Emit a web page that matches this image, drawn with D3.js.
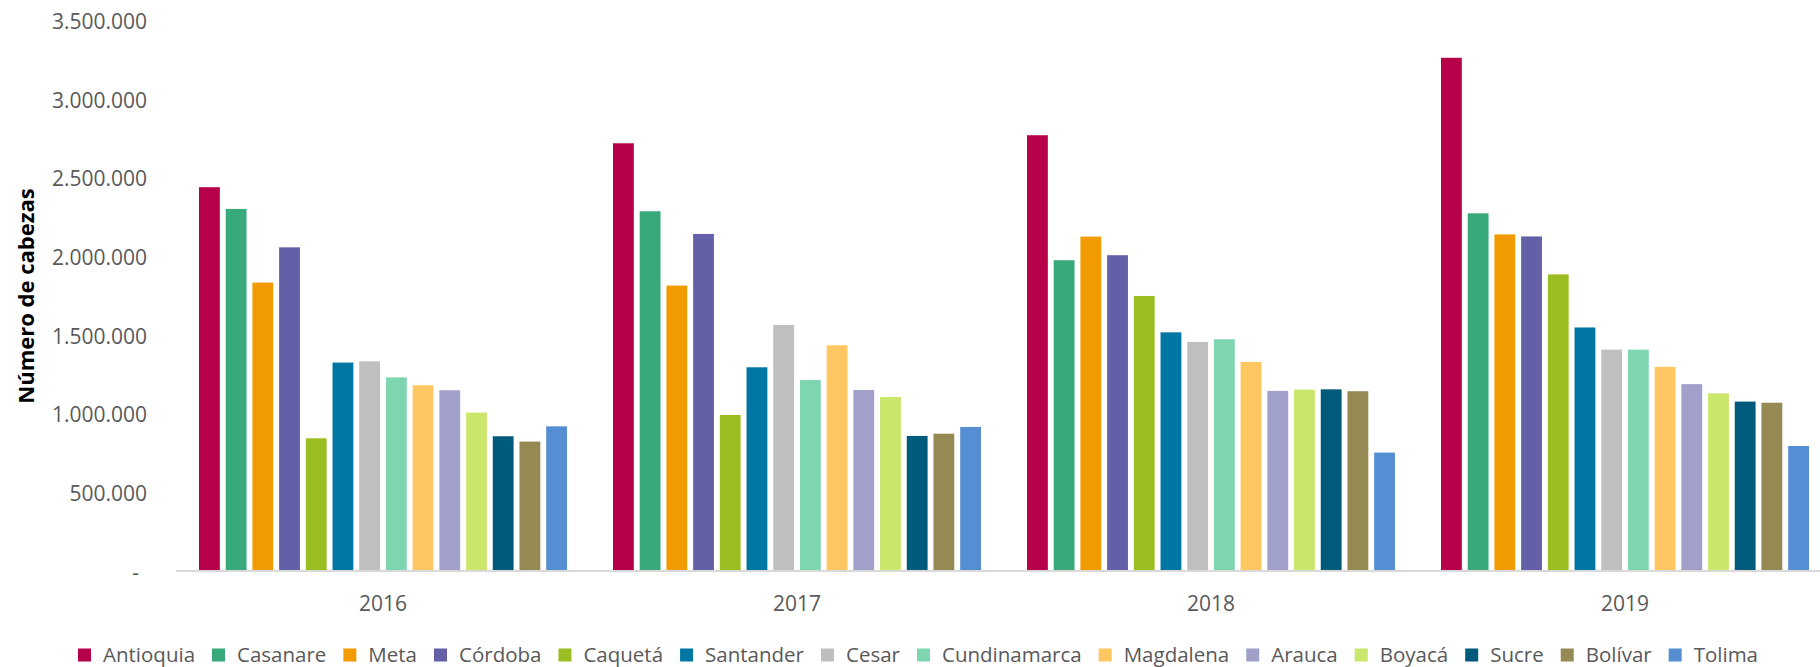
<!DOCTYPE html>
<meta charset="utf-8">
<style>
body { margin: 0; background: #fff; }
text { font-family: "Open Sans", sans-serif; }
.tick text { font-size: 21px; fill: #595959; }
.legend text { font-size: 20.5px; fill: #595959; }
.ytitle { font-size: 22px; font-weight: bold; fill: #000; }
</style>
<svg id="chart"></svg>

<script src="https://d3js.org/d3.v7.min.js"></script>
<script>

var width = 1820,
    height = 667

// datos
var years = ["2016", "2017", "2018", "2019"]

var departamentos = ["Antioquia", "Casanare", "Meta", "Córdoba", "Caquetá", "Santander", "Cesar",
    "Cundinamarca", "Magdalena", "Arauca", "Boyacá", "Sucre", "Bolívar", "Tolima"]

var cabezas2016 = [2438000, 2300000, 1832000, 2056000, 843000, 1324000, 1332000, 1230000, 1180000, 1148000, 1006000, 856000, 822000, 919000]
var cabezas2017 = [2717000, 2285000, 1813000, 2141000, 991000, 1294000, 1563000, 1213000, 1434000, 1150000, 1105000, 858000, 872000, 915000]
var cabezas2018 = [2768000, 1974000, 2124000, 2006000, 1747000, 1516000, 1455000, 1472000, 1328000, 1144000, 1152000, 1154000, 1142000, 752000]
var cabezas2019 = [3260000, 2272000, 2138000, 2125000, 1884000, 1547000, 1406000, 1406000, 1297000, 1187000, 1128000, 1076000, 1069000, 794000]

var yTicks = [0, 500000, 1000000, 1500000, 2000000, 2500000, 3000000, 3500000]

var colores = ["#B7004A", "#37A97A", "#F29B00", "#6460A8", "#9ABD21", "#0076A3", "#BFBFBF",
    "#7ED6B1", "#FFC661", "#A0A0CA", "#CAE66B", "#005A7C", "#958A54", "#568ED4"]

var valores = [cabezas2016, cabezas2017, cabezas2018, cabezas2019]

var svg = d3.select("#chart")
    .attr("width", width)
    .attr("height", height)

var x0 = d3.scaleBand()
    .domain(years)
    .range([176, 1832])

var x1 = d3.scaleBand()
    .domain(departamentos)
    .range([23, x0.bandwidth() - 23])
    .paddingInner(0.22)

var y = d3.scaleLinear()
    .domain([0, 3500000])
    .range([571, 20])

var color = d3.scaleOrdinal(departamentos, colores)

var fmt = function(d) {
    if (d === 0) return "-";
    return d3.format(",")(d).replace(/,/g, ".");
}

// eje y (sin linea)
var yAxis = svg.append("g")
    .attr("transform", "translate(147,0)")
    .call(d3.axisLeft(y).tickValues(yTicks).tickFormat(fmt).tickSize(0).tickPadding(0))
yAxis.select(".domain").remove()
yAxis.selectAll(".tick text").attr("dy", "0.4em")
yAxis.selectAll(".tick text")
    .filter(function(d) { return d === 0; })
    .attr("x", -8)

// barras
var grupos = svg.selectAll(".grupo")
    .data(years)
    .enter().append("g")
    .attr("class", "grupo")
    .attr("transform", function(d) { return "translate(" + x0(d) + ",0)"; })

grupos.selectAll("rect")
    .data(function(d, i) {
        return departamentos.map(function(dep, j) { return { dep: dep, value: valores[i][j] }; });
    })
    .enter().append("rect")
    .attr("x", function(d) { return x1(d.dep); })
    .attr("y", function(d) { return y(d.value); })
    .attr("width", x1.bandwidth())
    .attr("height", function(d) { return y(0) - y(d.value); })
    .attr("fill", function(d) { return color(d.dep); })

// eje x
var xAxis = svg.append("g")
    .attr("transform", "translate(0," + y(0) + ")")
    .call(d3.axisBottom(x0).tickSize(0).tickPadding(25))
xAxis.select(".domain")
    .attr("stroke", "#D9D9D9")
    .attr("stroke-width", 2)
    .attr("d", "M176,0H1820")

svg.append("text")
    .attr("class", "ytitle")
    .attr("transform", "translate(26,296) rotate(-90)")
    .attr("text-anchor", "middle")
    .attr("dy", "0.35em")
    .text("Número de cabezas")

// leyenda
var legend = svg.append("g").attr("class", "legend")

var item = legend.selectAll("g")
    .data(departamentos)
    .enter().append("g")

item.append("rect")
    .attr("width", 13)
    .attr("height", 13)
    .attr("y", -6.5)
    .attr("fill", function(d) { return color(d); })

item.append("text")
    .attr("x", 25)
    .attr("dy", "0.35em")
    .text(function(d) { return d; })

var pos = 0
item.each(function() {
    var w = this.querySelector("text").getComputedTextLength()
    d3.select(this).attr("data-x", pos)
    pos += 25 + w + 17
})
var total = pos - 17
var start = 918 - total / 2
item.attr("transform", function() {
    return "translate(" + (start + (+this.getAttribute("data-x"))) + ",655)";
})

</script>
